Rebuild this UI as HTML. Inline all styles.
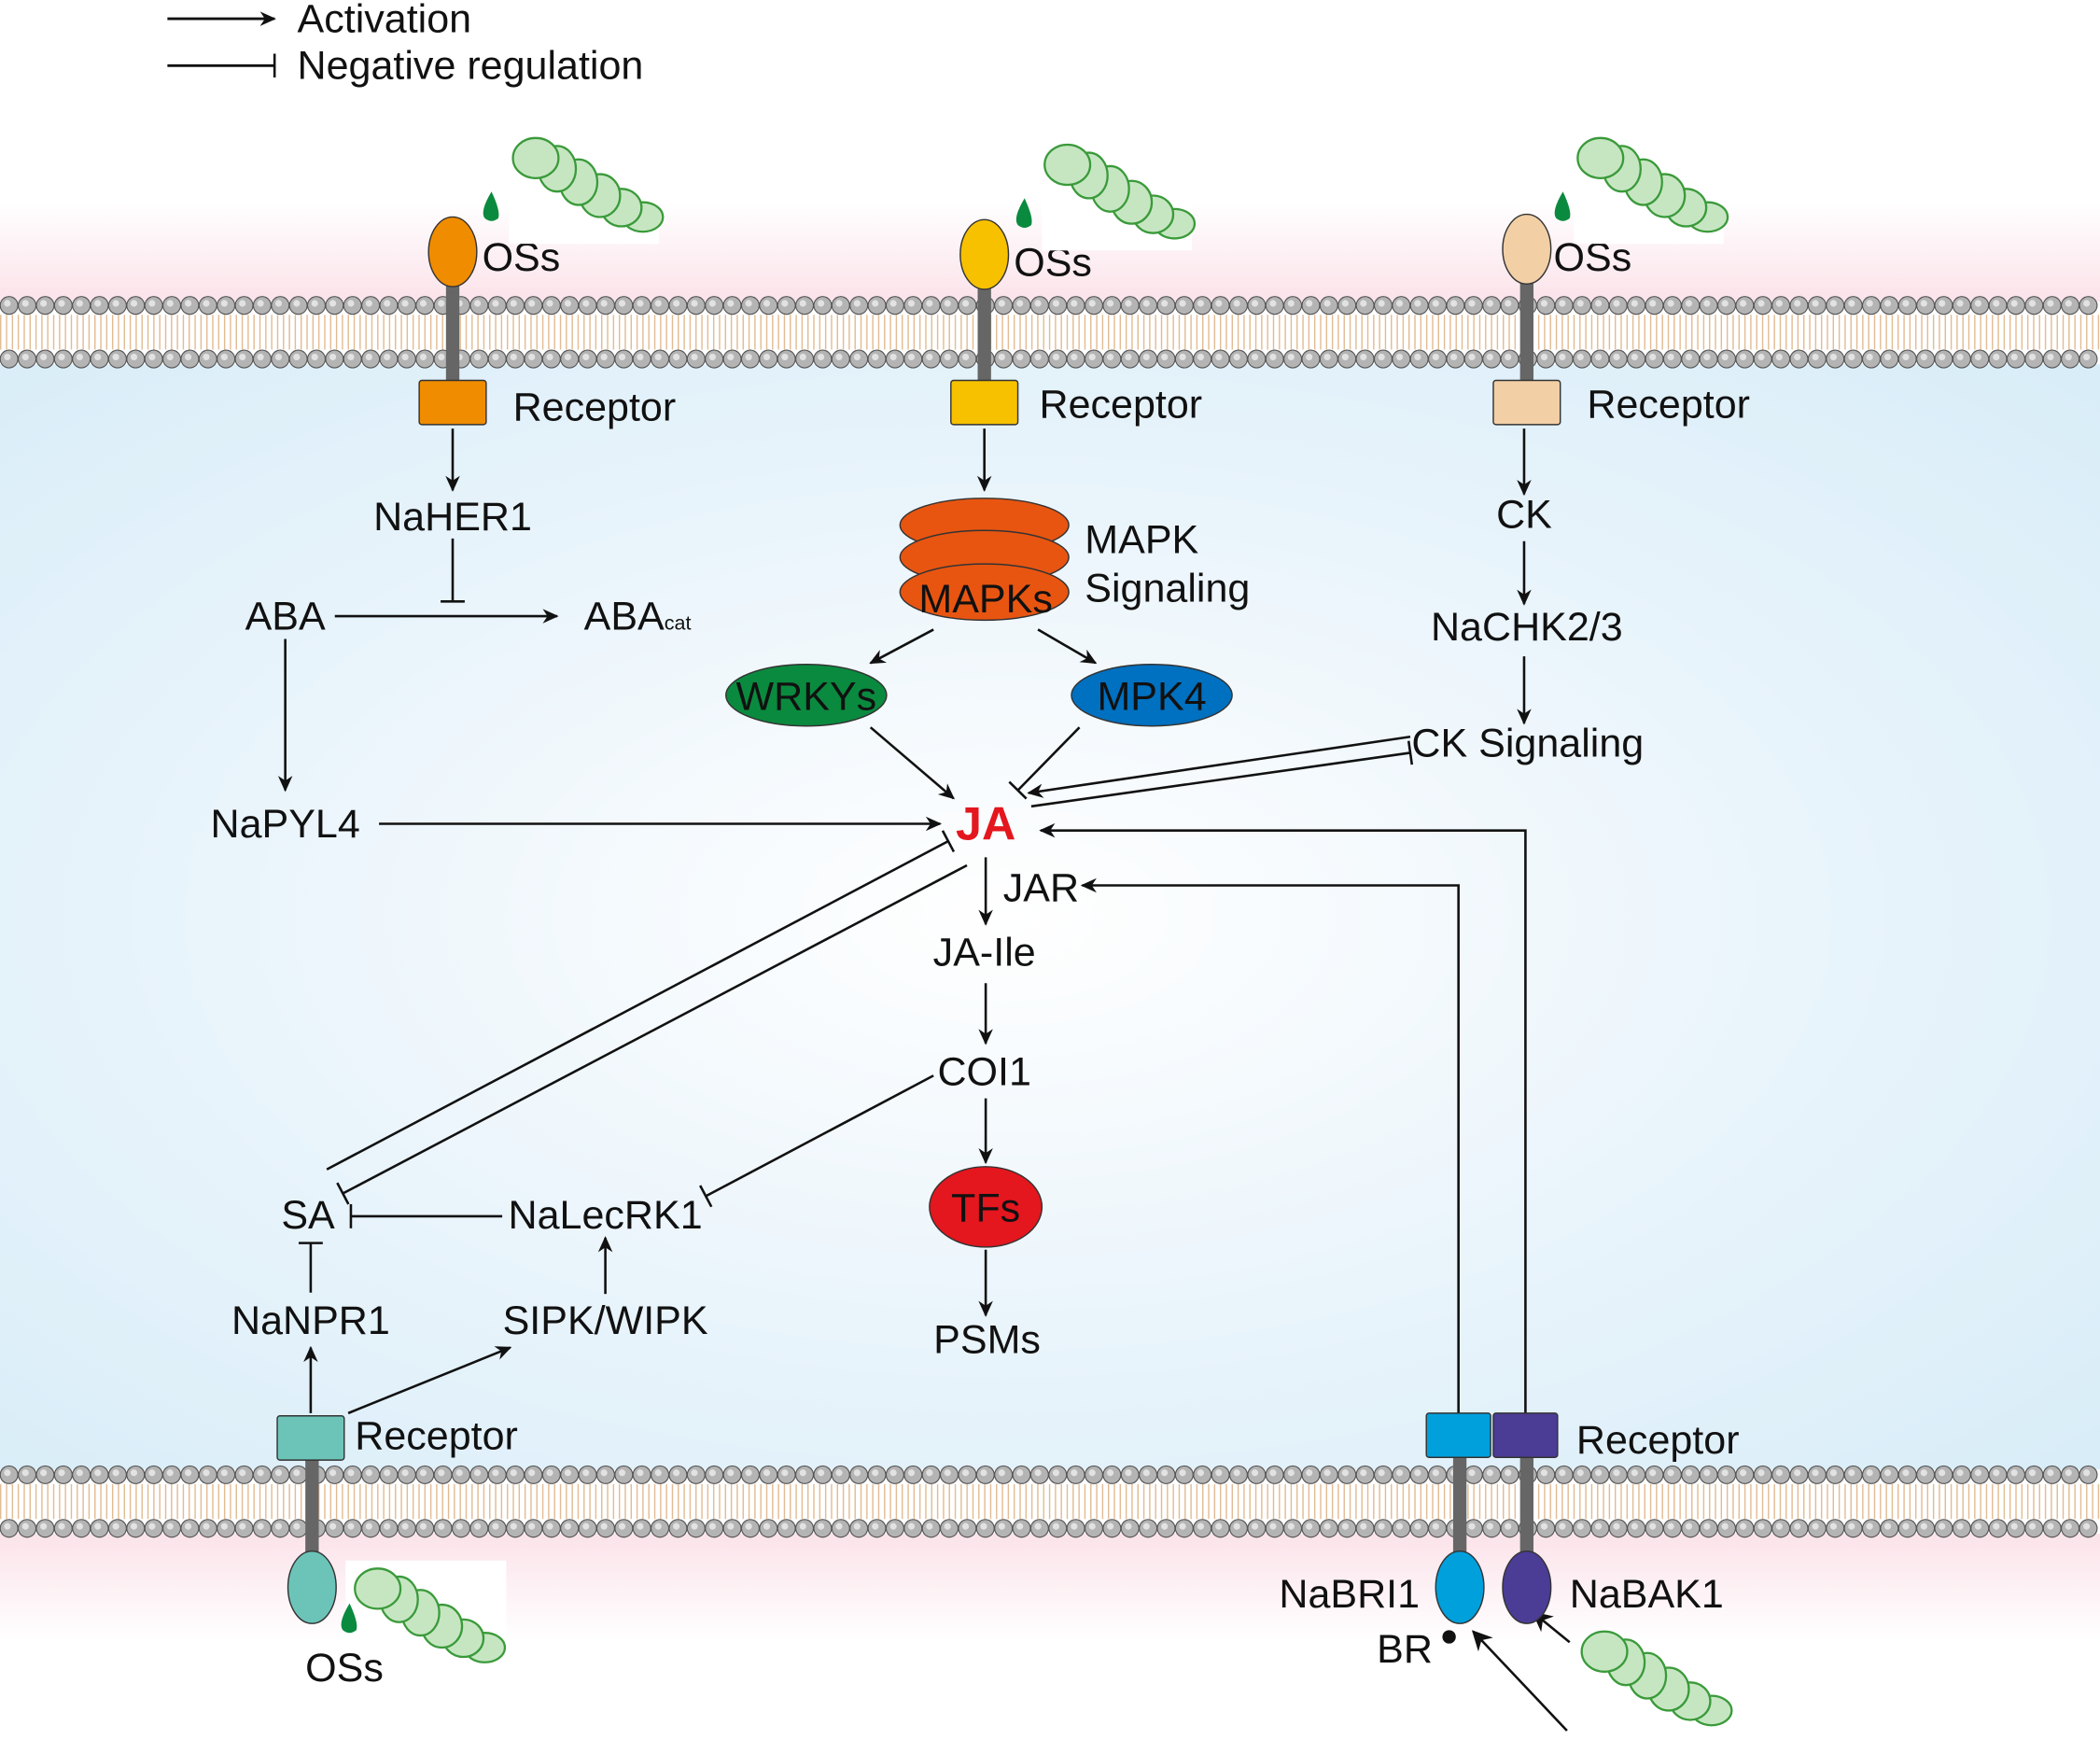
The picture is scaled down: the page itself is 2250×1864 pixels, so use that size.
<!DOCTYPE html>
<html><head><meta charset="utf-8"><style>
html,body{margin:0;padding:0;background:#fff;}
svg{display:block;}
text{font-family:"Liberation Sans",sans-serif;font-size:30px;fill:#111;}
</style></head><body>
<svg width="2250" height="1864" viewBox="0 0 1568 1299" preserveAspectRatio="none" xmlns="http://www.w3.org/2000/svg">
<defs>
<marker id="a" viewBox="0 0 10 10" refX="9" refY="5" markerWidth="12" markerHeight="12" markerUnits="userSpaceOnUse" orient="auto"><path d="M0,0.5 L10,5 L0,9.5 L3,5 z" fill="#111"/></marker>
<marker id="a2" viewBox="0 0 10 10" refX="9" refY="5" markerWidth="15" markerHeight="15" markerUnits="userSpaceOnUse" orient="auto"><path d="M0,0 L10,5 L0,10 L3,5 z" fill="#111"/></marker>
<marker id="b" viewBox="0 0 4 18" refX="2" refY="9" markerWidth="4" markerHeight="18" markerUnits="userSpaceOnUse" orient="auto"><rect x="1.1" y="0" width="1.8" height="18" fill="#111"/></marker>
<linearGradient id="pinkT" x1="0" y1="0" x2="0" y2="1"><stop offset="0" stop-color="#fff"/><stop offset="1" stop-color="#fbe3ea"/></linearGradient>
<linearGradient id="pinkB" x1="0" y1="0" x2="0" y2="1"><stop offset="0" stop-color="#fbe3ea"/><stop offset="1" stop-color="#fff"/></linearGradient>
<radialGradient id="blue" cx="0.48" cy="0.5" r="0.7"><stop offset="0" stop-color="#ffffff"/><stop offset="0.55" stop-color="#e9f4fb"/><stop offset="1" stop-color="#d9edf8"/></radialGradient>
<g id="cat">
<g fill="#c6e6c2" stroke="#3a9a3a" stroke-width="1.6">
<ellipse cx="100" cy="62" rx="15" ry="11"/>
<ellipse cx="84" cy="55" rx="15" ry="14"/>
<ellipse cx="68" cy="46" rx="15" ry="16"/>
<ellipse cx="52" cy="36" rx="14" ry="17"/>
<ellipse cx="36" cy="26" rx="14" ry="17"/>
<ellipse cx="20" cy="18" rx="17" ry="15"/>
</g>
</g>
<path id="drop" d="M0,0 q-9,15 -5,20 q5,4 10,0 q2,-5 -5,-20z" fill="#0a8a3e"/>
<g id="memb">
<g stroke="#e2bc94" stroke-width="26" stroke-dasharray="1 3.4" fill="none">
<line x1="0" y1="248" x2="1568" y2="248"/>
</g>
<g fill="none" stroke-linecap="round">
<line x1="6.75" y1="228" x2="1568" y2="228" stroke="#555" stroke-width="14" stroke-dasharray="0 13.5"/>
<line x1="6.75" y1="228" x2="1568" y2="228" stroke="#b4b4b4" stroke-width="12.4" stroke-dasharray="0 13.5"/>
<line x1="5.5" y1="226.5" x2="1568" y2="226.5" stroke="#e2e2e2" stroke-width="5" stroke-dasharray="0 13.5"/>
<line x1="6.75" y1="268" x2="1568" y2="268" stroke="#555" stroke-width="14" stroke-dasharray="0 13.5"/>
<line x1="6.75" y1="268" x2="1568" y2="268" stroke="#b4b4b4" stroke-width="12.4" stroke-dasharray="0 13.5"/>
<line x1="5.5" y1="266.5" x2="1568" y2="266.5" stroke="#e2e2e2" stroke-width="5" stroke-dasharray="0 13.5"/>
</g>
</g>
</defs>

<rect width="1568" height="1299" fill="#fff"/>
<rect x="0" y="150" width="1568" height="75" fill="url(#pinkT)"/>
<rect x="0" y="272" width="1568" height="825" fill="url(#blue)"/>
<rect x="0" y="1145" width="1568" height="80" fill="url(#pinkB)"/>
<use href="#memb"/>
<use href="#memb" y="873"/>

<line x1="125" y1="14" x2="205" y2="14" stroke="#111" stroke-width="2" marker-end="url(#a)"/>
<text x="222" y="24">Activation</text>
<line x1="125" y1="49" x2="205" y2="49" stroke="#111" stroke-width="2" marker-end="url(#b)"/>
<text x="222" y="59">Negative regulation</text>

<g stroke="#333" stroke-width="1">
<rect x="333" y="210" width="10" height="78" fill="#666" stroke="none"/>
<ellipse cx="338" cy="188" rx="18" ry="26" fill="#f08c00"/>
<rect x="313" y="284" width="50" height="33" rx="2" fill="#f08c00"/>
<rect x="730" y="212" width="10" height="76" fill="#666" stroke="none"/>
<ellipse cx="735" cy="190" rx="18" ry="26" fill="#f7c100"/>
<rect x="710" y="284" width="50" height="33" rx="2" fill="#f7c100"/>
<rect x="1135" y="210" width="10" height="78" fill="#666" stroke="none"/>
<ellipse cx="1140" cy="186" rx="18" ry="26" fill="#f2cfa5"/>
<rect x="1115" y="284" width="50" height="33" rx="2" fill="#f2cfa5"/>
</g>
<text x="360" y="202">OSs</text><text x="757" y="206">OSs</text><text x="1160" y="202">OSs</text>
<text x="383" y="314">Receptor</text><text x="776" y="312">Receptor</text><text x="1185" y="312">Receptor</text>
<rect x="380" y="100" width="112" height="82" fill="#fff"/><use href="#cat" x="380" y="100"/>
<rect x="778" y="105" width="112" height="82" fill="#fff"/><use href="#cat" x="777" y="105"/>
<rect x="1175" y="100" width="112" height="82" fill="#fff"/><use href="#cat" x="1175" y="100"/>
<use href="#drop" x="367" y="143"/><use href="#drop" x="765" y="148"/><use href="#drop" x="1167" y="143"/>

<g stroke="#111" stroke-width="1.8" fill="none">
<line x1="338" y1="320" x2="338" y2="366" marker-end="url(#a)"/>
<line x1="338" y1="402" x2="338" y2="449" marker-end="url(#b)"/>
<line x1="250" y1="460" x2="416" y2="460" marker-end="url(#a)"/>
<line x1="213" y1="477" x2="213" y2="590" marker-end="url(#a)"/>
<line x1="283" y1="615" x2="702" y2="615" marker-end="url(#a)"/>
<line x1="735" y1="320" x2="735" y2="366" marker-end="url(#a)"/>
<line x1="697" y1="470" x2="650" y2="495" marker-end="url(#a)"/>
<line x1="775" y1="470" x2="818" y2="495" marker-end="url(#a)"/>
<line x1="650" y1="543" x2="712" y2="596" marker-end="url(#a)"/>
<line x1="806" y1="543" x2="760" y2="590" marker-end="url(#b)"/>
<line x1="736" y1="640" x2="736" y2="690" marker-end="url(#a)"/>
<line x1="736" y1="734" x2="736" y2="779" marker-end="url(#a)"/>
<line x1="736" y1="820" x2="736" y2="868" marker-end="url(#a)"/>
<line x1="736" y1="933" x2="736" y2="982" marker-end="url(#a)"/>
<line x1="1138" y1="320" x2="1138" y2="369" marker-end="url(#a)"/>
<line x1="1138" y1="404" x2="1138" y2="451" marker-end="url(#a)"/>
<line x1="1138" y1="490" x2="1138" y2="540" marker-end="url(#a)"/>
<line x1="1053" y1="550" x2="768" y2="592" marker-end="url(#a)"/>
<line x1="770" y1="602" x2="1053" y2="562" marker-end="url(#b)"/>
<polyline points="1139,1055 1139,620 777,620" marker-end="url(#a)"/>
<polyline points="1089,1055 1089,661 808,661" marker-end="url(#a)"/>
<line x1="244" y1="873" x2="708" y2="628" marker-end="url(#b)"/>
<line x1="722" y1="646" x2="256" y2="891" marker-end="url(#b)"/>
<line x1="697" y1="803" x2="527" y2="893" marker-end="url(#b)"/>
<line x1="375" y1="908" x2="262" y2="908" marker-end="url(#b)"/>
<line x1="232" y1="965" x2="232" y2="928" marker-end="url(#b)"/>
<line x1="452" y1="966" x2="452" y2="924" marker-end="url(#a)"/>
<line x1="232" y1="1055" x2="232" y2="1006" marker-end="url(#a)"/>
<line x1="260" y1="1055" x2="381" y2="1006" marker-end="url(#a)"/>
<line x1="1170" y1="1292" x2="1100" y2="1218" marker-end="url(#a2)"/>
<line x1="1172" y1="1226" x2="1145" y2="1204" marker-end="url(#a2)"/>
</g>

<g stroke="#333" stroke-width="1" fill="#e85511">
<ellipse cx="735" cy="392" rx="63" ry="20"/>
<ellipse cx="735" cy="416" rx="63" ry="20"/>
<ellipse cx="735" cy="442" rx="63" ry="21"/>
<ellipse cx="602" cy="519" rx="60" ry="23" fill="#0a8a3e"/>
<ellipse cx="860" cy="519" rx="60" ry="23" fill="#0070c0"/>
<ellipse cx="736" cy="901" rx="42" ry="30" fill="#e4161e"/>
</g>
<text x="736" y="457" text-anchor="middle">MAPKs</text>
<text x="810" y="413">MAPK</text><text x="810" y="449">Signaling</text>
<text x="602" y="530" text-anchor="middle">WRKYs</text>
<text x="860" y="530" text-anchor="middle">MPK4</text>
<text x="736" y="912" text-anchor="middle">TFs</text>

<text x="338" y="396" text-anchor="middle">NaHER1</text>
<text x="213" y="470" text-anchor="middle">ABA</text>
<text x="436" y="470">ABA<tspan font-size="15">cat</tspan></text>
<text x="213" y="625" text-anchor="middle">NaPYL4</text>
<text x="736" y="627" text-anchor="middle" style="fill:#e4161e;font-weight:bold;font-size:35px">JA</text>
<text x="749" y="673">JAR</text>
<text x="735" y="721" text-anchor="middle">JA-Ile</text>
<text x="735" y="810" text-anchor="middle">COI1</text>
<text x="737" y="1010" text-anchor="middle">PSMs</text>
<text x="1138" y="394" text-anchor="middle">CK</text>
<text x="1140" y="478" text-anchor="middle">NaCHK2/3</text>
<text x="1054" y="565">CK Signaling</text>
<text x="230" y="917" text-anchor="middle">SA</text>
<text x="452" y="917" text-anchor="middle">NaLecRK1</text>
<text x="232" y="996" text-anchor="middle">NaNPR1</text>
<text x="452" y="996" text-anchor="middle">SIPK/WIPK</text>

<g stroke="#333" stroke-width="1">
<rect x="228" y="1088" width="10" height="75" fill="#666" stroke="none"/>
<rect x="207" y="1057" width="50" height="33" rx="2" fill="#6cc4b8"/>
<ellipse cx="233" cy="1185" rx="18" ry="27" fill="#6cc4b8"/>
</g>
<text x="265" y="1082">Receptor</text>
<rect x="258" y="1165" width="120" height="80" fill="#fff"/><use href="#cat" x="262" y="1168"/>
<use href="#drop" x="261" y="1197"/>
<text x="228" y="1255">OSs</text>

<g stroke="#333" stroke-width="1">
<rect x="1085" y="1086" width="10" height="76" fill="#666" stroke="none"/>
<rect x="1135" y="1086" width="10" height="76" fill="#666" stroke="none"/>
<rect x="1065" y="1055" width="48" height="33" rx="2" fill="#00a0dc"/>
<rect x="1115" y="1055" width="48" height="33" rx="2" fill="#4b3c96"/>
<ellipse cx="1090" cy="1185" rx="18" ry="27" fill="#00a0dc"/>
<ellipse cx="1140" cy="1185" rx="18" ry="27" fill="#4b3c96"/>
</g>
<circle cx="1082" cy="1222" r="5" fill="#111"/>
<text x="1177" y="1085">Receptor</text>
<text x="955" y="1200">NaBRI1</text>
<text x="1172" y="1200">NaBAK1</text>
<text x="1028" y="1241">BR</text>
<use href="#cat" x="1178" y="1215"/>
</svg>
</body></html>
